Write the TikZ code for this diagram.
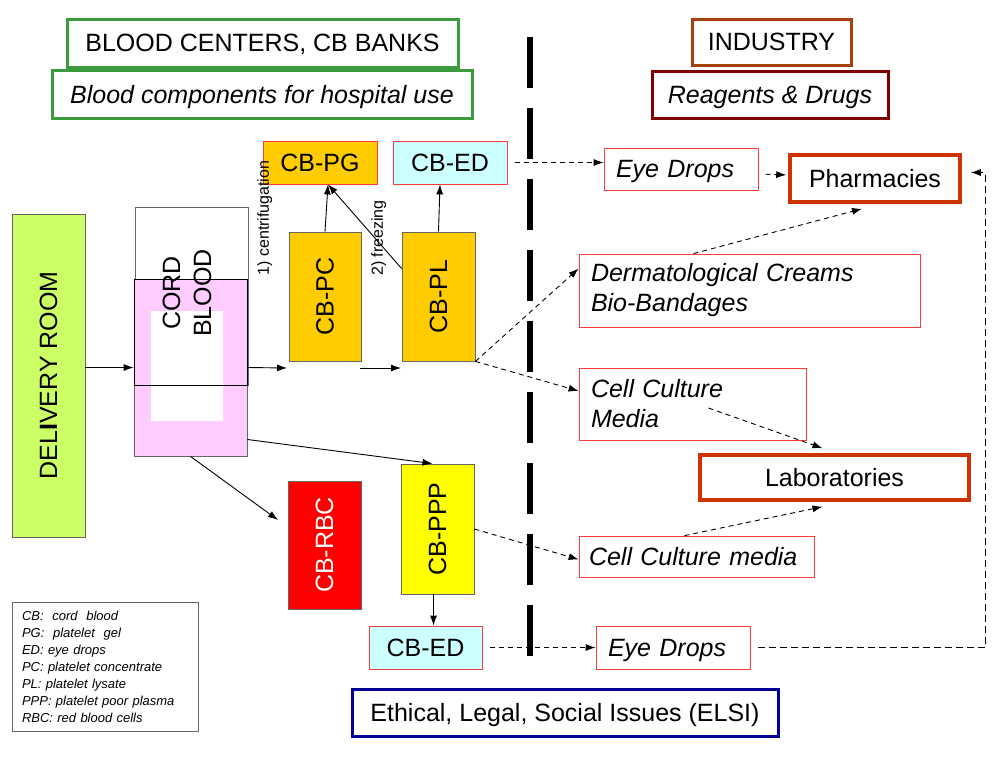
\documentclass[tikz,border=0pt]{standalone}
\usepackage{fontspec}
\setmainfont{Liberation Sans}
\usepackage{graphicx}
\usetikzlibrary{arrows.meta}

\definecolor{hdrgreen}{RGB}{60,155,60}
\definecolor{hdrbrown}{RGB}{165,65,15}
\definecolor{hdrmaroon}{RGB}{128,0,0}
\definecolor{elsiblue}{RGB}{0,0,150}
\definecolor{destred}{RGB}{204,51,0}
\definecolor{prodred}{RGB}{255,60,60}
\definecolor{roomgreen}{RGB}{204,255,102}
\definecolor{cbpink}{RGB}{255,204,255}
\definecolor{cbgold}{RGB}{255,204,0}
\definecolor{cbcyan}{RGB}{204,255,255}
\definecolor{cbred}{RGB}{255,0,0}
\definecolor{cbyellow}{RGB}{255,255,0}

\tikzset{
  base/.style={inner sep=0pt,text depth=0pt,font=\fontsize{25}{30}\selectfont},
  hdr/.style={base,draw=#1,line width=3pt,fill=white},
  stage/.style={base,draw=gray!80!black,line width=0.8pt},
  prod/.style={base,draw=prodred,line width=0.8pt},
  outbox/.style={base,draw=prodred,line width=0.8pt,align=left,inner xsep=12pt,
    font=\fontsize{25}{30}\selectfont\itshape},
  twoline/.style={outbox,text depth=},
  dest/.style={base,draw=destred,line width=3.5pt},
  flow/.style={->,line width=0.9pt},
  ship/.style={->,line width=0.9pt,dash pattern=on 5pt off 4pt},
}

\begin{document}
\begin{tikzpicture}[x=1pt,y=-1pt,>={Latex[length=10pt,width=7pt]}]
  \useasboundingbox (0,0) rectangle (992,771);

  % headers
  \node[hdr=hdrgreen, minimum width=391pt, minimum height=48pt] (bc) at (262.5,43) {BLOOD CENTERS, CB BANKS};
  \node[hdr=hdrgreen, minimum width=420pt, minimum height=48pt, font=\fontsize{25}{30}\selectfont\itshape] (bcu) at (262,94) {Blood components for hospital use};
  \node[hdr=hdrbrown, minimum width=159pt, minimum height=46pt] (ind) at (771.5,42) {INDUSTRY};
  \node[hdr=hdrmaroon, minimum width=236pt, minimum height=47pt, font=\fontsize{25}{30}\selectfont\itshape] (rd) at (770,94.5) {Reagents \& Drugs};

  % separator
  \draw[line width=6pt,dash pattern=on 51pt off 20pt] (530,37) -- (530,656);

  % delivery room and cord blood
  \node[stage, fill=roomgreen, minimum width=73pt, minimum height=323pt] (dr) at (48.5,375.5) {\rotatebox{90}{DEL\textbf{I}VERY ROOM}};
  \node[stage, fill=white, minimum width=113pt, minimum height=178pt] (cbtop) at (191.5,296) {};
  \node[stage, fill=cbpink, minimum width=113pt, minimum height=177pt] (cb) at (190.5,367.5) {};
  \fill[white] (151,311) rectangle (223,421);
  \draw[line width=1pt] (134,279) rectangle (247,385);
  \node[base, text depth=, rotate=90, align=center, font=\fontsize{25}{31}\selectfont] (cbtxt) at (187,293) {CORD\\BLOOD};

  % components
  \node[prod, fill=cbgold, minimum width=114pt, minimum height=43pt] (pg) at (320,162.5) {CB-PG};
  \node[prod, fill=cbcyan, minimum width=114pt, minimum height=43pt] (ed1) at (450,162.5) {CB-ED};
  \node[stage, fill=cbgold, minimum width=72pt, minimum height=129pt] (pc) at (325,296.5) {\rotatebox{90}{CB-PC}};
  \node[stage, fill=cbgold, minimum width=73pt, minimum height=129pt] (pl) at (438.5,296.5) {\rotatebox{90}{CB-PL}};
  \node[stage, fill=cbred, text=white, minimum width=73pt, minimum height=128pt] (rbc) at (324.5,545) {\rotatebox{90}{CB-RBC}};
  \node[stage, fill=cbyellow, minimum width=73pt, minimum height=130pt] (ppp) at (437.5,529) {\rotatebox{90}{CB-PPP}};
  \node[prod, fill=cbcyan, minimum width=113pt, minimum height=43pt] (ed2) at (425.5,647.5) {CB-ED};

  \node[base, rotate=90, font=\fontsize{16}{19}\selectfont] (cent) at (263,218) {1) centrifugation};
  \node[base, rotate=90, font=\fontsize{16}{19}\selectfont] (frz) at (377,238) {2) freezing};

  % industry side
  \node[outbox, text width=130pt, minimum height=42pt] (ey1) at (681,169) {Eye Drops};
  \node[dest, minimum width=170pt, minimum height=47pt] (pharm) at (875,178.5) {Pharmacies};
  \node[twoline, text width=317pt, minimum height=73pt] (derm) at (749.5,290.5) {Dermatological Creams\\Bio-Bandages};
  \node[twoline, text width=203pt, minimum height=72pt] (ccm) at (692.5,404) {Cell Culture\\Media};
  \node[dest, minimum width=269pt, minimum height=45pt] (lab) at (834.5,477.5) {Laboratories};
  \node[outbox, text width=215pt, inner xsep=10pt, minimum height=41pt] (ccm2) at (696.5,556.5) {Cell Culture media};
  \node[outbox, text width=130pt, minimum height=43pt] (ey2) at (673,647.5) {Eye Drops};

  % legend and ELSI
  \node[draw=gray!80!black, line width=0.8pt, inner xsep=10pt, text width=166pt, minimum height=129pt,
    align=left, font=\fontsize{13}{17}\selectfont\itshape] (leg) at (105,666.5)
    {CB:\ \ cord\ \ blood\\PG:\ \ platelet\ \ gel\\ED: eye drops\\PC: platelet concentrate\\PL: platelet lysate\\PPP: platelet poor plasma\\RBC: red blood cells};
  \node[hdr=elsiblue, minimum width=426pt, minimum height=47pt] (elsi) at (565,712.5) {Ethical, Legal, Social Issues (ELSI)};

  % solid flows
  \coordinate (pcin) at (287,368);
  \coordinate (pcout) at (360,368);
  \coordinate (plin) at (401,368);
  \coordinate (rbcin) at (278,520);
  \draw[flow] (dr.east |- cb.center) -- (cb.west);
  \draw[flow] (cb.east) -- (pcin);
  \draw[flow] (pcout) -- (plin);
  \draw[flow] (pc.north) -- ([xshift=8pt]pg.south);
  \draw[flow] ([yshift=28pt]pl.west) -- ([xshift=8pt]pg.south);
  \draw[flow] (pl.north) -- ([xshift=-10pt]ed1.south);
  \draw[flow] ([yshift=-72pt]cb.east) -- ([xshift=-5pt]ppp.north);
  \draw[flow] (cb.south) -- (rbcin);
  \draw[flow] ([xshift=-4pt]ppp.south) -- ([xshift=-4pt]ppp.south |- ed2.north);

  % dashed flows
  \draw[ship, shorten <=8pt] (ed1.east) -- (ed1.east -| ey1.west);
  \draw[ship, shorten <=7pt, shorten >=2pt] ([yshift=-5pt]ey1.east) -- ([yshift=3.5pt]pharm.west);
  \draw[ship] ([xshift=-56pt]derm.north) -- ([xshift=-13pt,yshift=-5pt]pharm.south);
  \draw[ship] (pl.south east) -- ([yshift=22pt]derm.west);
  \draw[ship] (pl.south east) -- ([yshift=13pt]ccm.west);
  \coordinate (ccmsrc) at ([xshift=16pt,yshift=-4pt]ccm.center);
  \draw[ship] (ccmsrc) -- ([xshift=-12pt,yshift=5pt]lab.north);
  \draw[ship] ([xshift=-12pt]ccm2.north) -- ([xshift=-12pt,yshift=-5pt]lab.south);
  \draw[ship] (ppp.east) -- ([yshift=-3pt]ccm2.west);
  \draw[ship, shorten <=8pt] (ed2.east) -- (ey2.west);
  \draw[ship, dash pattern=on 7pt off 4pt, shorten <=8pt, shorten >=9pt] (ey2.east) -- ++(235,0) |- ([yshift=6pt]pharm.east);
\end{tikzpicture}
\end{document}
